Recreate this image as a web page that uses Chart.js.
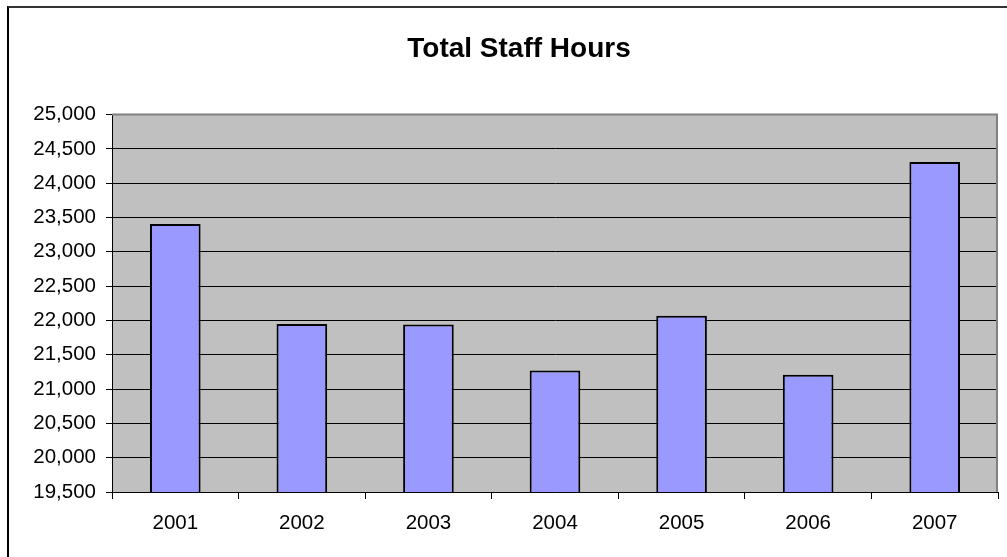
<!DOCTYPE html>
<html>
<head>
<meta charset="utf-8">
<script src="https://cdn.jsdelivr.net/npm/chart.js@4"></script>
<style>
  html, body { margin: 0; padding: 0; background: #fff; overflow: hidden; }
  #wrap { position: relative; width: 1007px; height: 557px; overflow: hidden; }
  #frame {
    position: absolute; left: 7px; top: 6px; width: 1100px; height: 700px;
    border-left: 2px solid #000; border-top: 2px solid #333;
  }
  canvas { position: absolute; left: 0; top: 0; }
</style>
</head>
<body>
<div id="wrap">
  <div id="frame"></div>
  <canvas id="chart" width="1038" height="557"></canvas>
</div>
<script>
/* ── Data ── */
const YEARS = ['2001', '2002', '2003', '2004', '2005', '2006', '2007'];
const HOURS = [23405, 21950, 21940, 21270, 22070, 21210, 24310];
const Y_MIN = 19500;
const Y_MAX = 25000;
const Y_STEP = 500;

const FONT = "'Liberation Sans', Arial, sans-serif";

/* ── Plot area background + grey top/right frame ── */
const plotArea = {
  id: 'plotArea',
  afterLayout(chart) {
    /* the chart frame runs past the right edge, so centre the title on the whole canvas */
    if (chart.titleBlock) {
      chart.titleBlock.left = 0;
      chart.titleBlock.right = chart.width;
      chart.titleBlock.width = chart.width;
    }
  },
  beforeDraw(chart) {
    const { ctx, chartArea: a } = chart;
    ctx.save();
    ctx.fillStyle = '#c0c0c0';
    ctx.fillRect(a.left, a.top, a.right - a.left, a.bottom - a.top);
    ctx.restore();
  },
  afterDatasetsDraw(chart) {
    const { ctx, chartArea: a } = chart;
    ctx.save();
    ctx.strokeStyle = '#808080';
    ctx.lineWidth = 2;
    ctx.beginPath();
    ctx.moveTo(a.left, a.top);
    ctx.lineTo(a.right - 1, a.top);
    ctx.lineTo(a.right - 1, a.bottom);
    ctx.stroke();
    ctx.restore();
  }
};

new Chart(document.getElementById('chart'), {
  type: 'bar',
  data: {
    labels: YEARS,
    datasets: [{
      data: HOURS,
      backgroundColor: '#9999ff',
      borderColor: '#000',
      borderWidth: 2,
      borderSkipped: false,
      categoryPercentage: 1.0,
      barPercentage: 0.4,
    }]
  },
  options: {
    responsive: false,
    animation: false,
    devicePixelRatio: 1,
    layout: { padding: { left: 0, right: 40, top: 0, bottom: 0 } },
    plugins: {
      legend: { display: false },
      tooltip: { enabled: false },
      title: {
        display: true,
        text: 'Total Staff Hours',
        color: '#000',
        font: { family: FONT, size: 28, weight: 'bold' },
        padding: { top: 32, bottom: 49 }
      }
    },
    scales: {
      x: {
        grid: { drawOnChartArea: false, color: '#000', tickLength: 7, offset: true },
        border: { display: true, color: '#000', width: 1 },
        ticks: { color: '#000', font: { family: FONT, size: 20.5 }, padding: 12 },
        afterFit: s => { s.height = 65; }
      },
      y: {
        min: Y_MIN,
        max: Y_MAX,
        grid: {
          color: ctx => (ctx.tick && ctx.tick.value === Y_MAX) ? '#808080' : '#000',
          tickColor: '#000',
          tickLength: 6,
          lineWidth: 1
        },
        border: { display: true, color: '#000', width: 1 },
        ticks: {
          stepSize: Y_STEP,
          color: '#000',
          padding: 10,
          font: { family: FONT, size: 20.5 },
          callback: v => v.toLocaleString('en-US')
        },
        afterFit: s => { s.width = 112; }
      }
    }
  },
  plugins: [plotArea]
});
</script>
</body>
</html>
